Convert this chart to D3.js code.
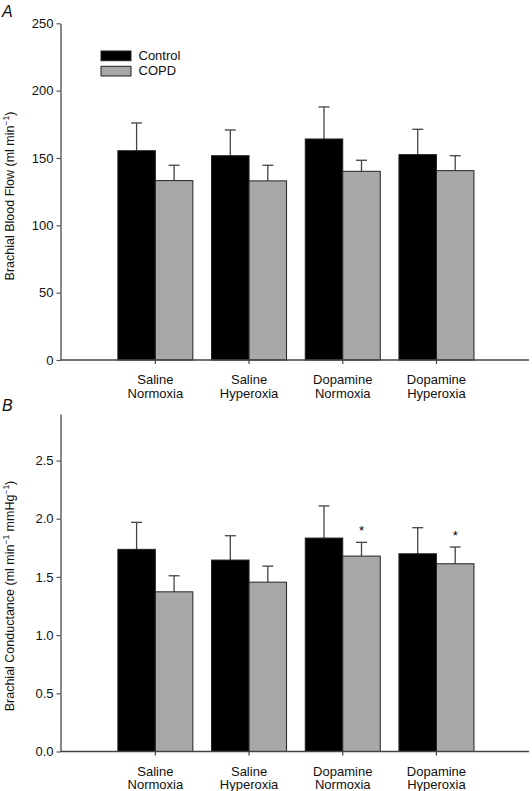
<!DOCTYPE html>
<html><head><meta charset="utf-8">
<script src="https://cdn.jsdelivr.net/npm/d3@7"></script>
<style>body{margin:0;background:#fff}svg{display:block;font-family:"Liberation Sans",Arial,Helvetica,sans-serif}</style>
</head><body><svg id="c" width="532" height="791"></svg>
<script>
const categories = [["Saline","Normoxia"],["Saline","Hyperoxia"],["Dopamine","Normoxia"],["Dopamine","Hyperoxia"]];
const seriesNames = ["Control","COPD"];
const flowControl = [155.4, 151.7, 164.1, 152.5];
const flowControlErr = [176.0, 170.8, 187.9, 171.3];
const flowCOPD = [133.2, 133.0, 140.1, 140.6];
const flowCOPDErr = [144.6, 144.6, 148.3, 151.7];
const condControl = [1.737, 1.645, 1.834, 1.699];
const condControlErr = [1.969, 1.854, 2.110, 1.923];
const condCOPD = [1.372, 1.455, 1.679, 1.613];
const condCOPDErr = [1.510, 1.593, 1.797, 1.757];
const condStars = [false, false, true, true];
const flowTicks = [0, 50, 100, 150, 200, 250];
const condTicks = [0, 0.5, 1.0, 1.5, 2.0, 2.5];

const svg = d3.select("#c");
const colors = {Control:"#000", COPD:"#a8a8a8"};
const keys = categories.map(c => c.join(" "));

function panel(opts){
  const g = svg.append("g");
  const y = d3.scaleLinear().domain(opts.domain).range([opts.y0, opts.y1]);
  const x0 = d3.scaleBand().domain(keys).range([108.5, 483.3]).padding(0);
  const bw = 37.5;
  const x1 = d3.scaleBand().domain(seriesNames).range([x0.bandwidth()/2 - bw, x0.bandwidth()/2 + bw]);
  const data = [];
  keys.forEach((k,i)=>{
    data.push({k, s:"Control", v:opts.control[i], e:opts.controlErr[i], star:false});
    data.push({k, s:"COPD", v:opts.copd[i], e:opts.copdErr[i], star:opts.stars ? opts.stars[i] : false});
  });
  // error bars
  const eg = g.append("g").attr("stroke","#444").attr("stroke-width",1.3);
  data.forEach(d=>{
    const cx = x0(d.k) + x1(d.s) + x1.bandwidth()/2;
    eg.append("line").attr("x1",cx).attr("x2",cx).attr("y1",y(d.v)).attr("y2",y(d.e));
    eg.append("line").attr("x1",cx-5.5).attr("x2",cx+5.5).attr("y1",y(d.e)).attr("y2",y(d.e));
  });
  g.append("g").selectAll("rect").data(data).join("rect")
    .attr("x", d => x0(d.k) + x1(d.s))
    .attr("width", x1.bandwidth())
    .attr("y", d => y(d.v))
    .attr("height", d => y(0) - y(d.v))
    .attr("fill", d => colors[d.s])
    .attr("stroke", "#222").attr("stroke-width", 1);
  g.append("g").selectAll("text.star").data(data.filter(d=>d.star)).join("text")
    .attr("x", d => x0(d.k) + x1(d.s) + x1.bandwidth()/2)
    .attr("y", d => y(d.e) - 7)
    .attr("text-anchor","middle").attr("font-size",13).text("*");
  // y axis
  const ya = g.append("g").attr("transform",`translate(60.5,0)`)
    .call(d3.axisLeft(y).tickValues(opts.ticks).tickFormat(opts.fmt).tickSize(4).tickSizeOuter(0));
  ya.select(".domain").attr("stroke","#555").attr("stroke-width",1.4);
  ya.selectAll(".tick line").attr("stroke","#555").attr("stroke-width",1.2);
  ya.selectAll(".tick text").attr("font-size",13).attr("fill","#111").attr("x",-7).attr("font-family",null);
  // x axis
  const xa = g.append("g").attr("transform",`translate(0,${y(0)})`);
  xa.append("line").attr("x1",60.5).attr("x2",529).attr("stroke","#444").attr("stroke-width",1.4);
  keys.forEach((k,i)=>{
    const cx = x0(k) + x0.bandwidth()/2;
    xa.append("line").attr("x1",cx).attr("x2",cx).attr("y1",0).attr("y2",4).attr("stroke","#444").attr("stroke-width",1.2);
    const t = xa.append("text").attr("text-anchor","middle").attr("font-size",13).attr("fill","#111");
    t.append("tspan").attr("x",cx).attr("y",24).text(categories[i][0]);
    t.append("tspan").attr("x",cx).attr("y",37.5).text(categories[i][1]);
  });
  // y label
  const lab = g.append("text").attr("transform",`translate(14,${opts.labelY}) rotate(-90)`)
    .attr("text-anchor","middle").attr("font-size",12.5).attr("fill","#111");
  opts.label.forEach(p=>{
    const ts = lab.append("tspan").text(p.t);
    if(p.sup){ ts.attr("font-size",8.5).attr("dy",-5); }
    if(p.down){ ts.attr("dy",5); }
  });
  // panel letter
  g.append("text").attr("x",2).attr("y",opts.letterY).attr("font-size",16).attr("font-style","italic").attr("fill","#111").text(opts.letter);
  return {x0, x1, y};
}

panel({domain:[0,250], y0:360, y1:23.3, control:flowControl, controlErr:flowControlErr, copd:flowCOPD, copdErr:flowCOPDErr,
  ticks:flowTicks, fmt:d3.format("d"), labelY:196, letter:"A", letterY:17,
  label:[{t:"Brachial Blood Flow (ml min"},{t:"−1",sup:true},{t:")",down:true}]});

panel({domain:[0,2.9], y0:751.5, y1:414, control:condControl, controlErr:condControlErr, copd:condCOPD, copdErr:condCOPDErr, stars:condStars,
  ticks:condTicks, fmt:d3.format(".1f"), labelY:596, letter:"B", letterY:411,
  label:[{t:"Brachial Conductance (ml min"},{t:"−1",sup:true},{t:" mmHg",down:true},{t:"−1",sup:true},{t:")",down:true}]});

// legend
const lg = svg.append("g");
seriesNames.forEach((s,i)=>{
  lg.append("rect").attr("x",101).attr("y",51 + i*15.3).attr("width",30).attr("height",9.7)
    .attr("fill",colors[s]).attr("stroke","#222").attr("stroke-width",1);
  lg.append("text").attr("x",138.5).attr("y",60 + i*15.3).attr("font-size",13).attr("fill","#111").text(s);
});
</script></body></html>
